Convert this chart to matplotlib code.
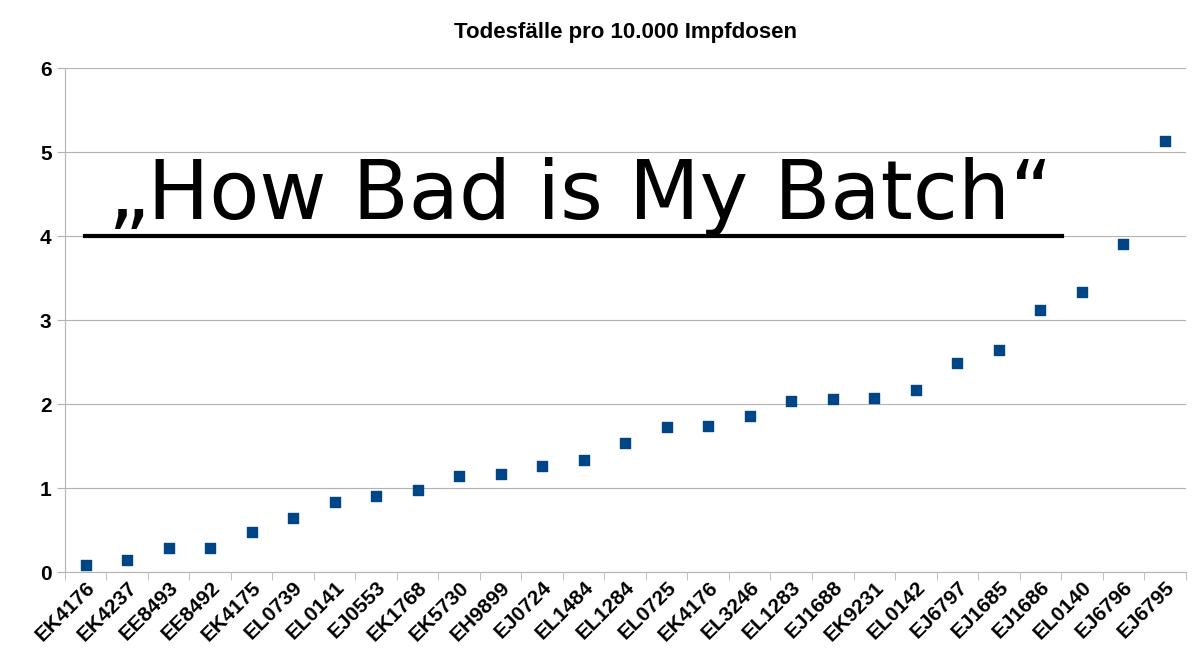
import matplotlib
matplotlib.use("Agg")
import matplotlib.pyplot as plt
import numpy as np

batches = ["EK4176", "EK4237", "EE8493", "EE8492", "EK4175", "EL0739", "EL0141",
           "EJ0553", "EK1768", "EK5730", "EH9899", "EJ0724", "EL1484", "EL1284",
           "EL0725", "EK4176", "EL3246", "EL1283", "EJ1688", "EK9231", "EL0142",
           "EJ6797", "EJ1685", "EJ1686", "EL0140", "EJ6796", "EJ6795"]
deaths = [0.08, 0.14, 0.29, 0.29, 0.48, 0.64, 0.83, 0.91, 0.98, 1.14, 1.17, 1.27,
          1.33, 1.54, 1.73, 1.74, 1.86, 2.04, 2.06, 2.08, 2.17, 2.49, 2.64, 3.12,
          3.34, 3.91, 5.13]

plt.rcParams['font.family'] = ['Liberation Sans', 'DejaVu Sans']
fig = plt.figure(figsize=(12, 6.7), dpi=100)
ax = fig.add_axes([0.054, 0.146, 0.934, 0.752])

x = np.arange(len(batches))
ax.scatter(x, deaths, marker='s', s=55, color='#004586', zorder=3)

ax.set_xlim(-0.5, len(batches) - 0.5)
ax.set_ylim(0, 6)
ax.set_yticks(range(7))
ax.set_xticks(x)
ax.set_xticklabels(batches, rotation=45, ha='right', rotation_mode='anchor',
                   fontsize=15, fontweight='bold')
ax.set_xticks(np.arange(-0.5, len(batches)), minor=True)
ax.tick_params(axis='x', which='major', length=0, pad=4)
ax.tick_params(axis='x', which='minor', length=6, color='#b3b3b3')
ax.tick_params(axis='y', labelsize=15, length=6, color='#b3b3b3')
for lbl in ax.get_yticklabels():
    lbl.set_fontweight('bold')
ax.grid(axis='y', color='#b3b3b3', linewidth=0.8)
ax.set_axisbelow(True)
for s in ['top', 'right']:
    ax.spines[s].set_visible(False)
ax.spines['left'].set_color('#b3b3b3')
ax.spines['bottom'].set_color('#b3b3b3')

ax.set_title("Todesfälle pro 10.000 Impfdosen", fontsize=16, fontweight='bold', pad=22)

ax.text(0.46, 0.745, "„How Bad is My Batch“", transform=ax.transAxes,
        ha='center', va='center', fontsize=59, family='DejaVu Sans', zorder=4)
ax.plot([0.018, 0.89], [4.0, 4.0], transform=ax.get_yaxis_transform(),
        color='black', linewidth=3, zorder=4)

fig.savefig("out.png", dpi=100)
